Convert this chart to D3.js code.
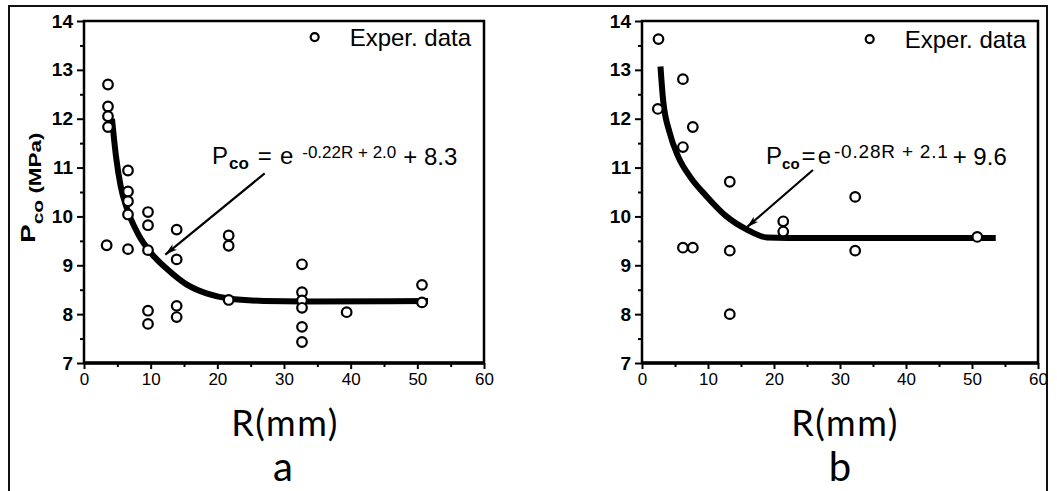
<!DOCTYPE html>
<html>
<head>
<meta charset="utf-8">
<script src="https://cdn.jsdelivr.net/npm/d3@7"></script>
<style>
  body { margin: 0; background: #fff; }
  svg { display: block; }
</style>
</head>
<body>
<div id="chart"></div>
<script>
var xTicks = [0, 10, 20, 30, 40, 50, 60];
var xMinor = [5, 15, 25, 35, 45, 55];
var yTicks = [7, 8, 9, 10, 11, 12, 13, 14];
var yMinor = [7.5, 8.5, 9.5, 10.5, 11.5, 12.5, 13.5];

// panel a: experimental points
var rA = [3.6, 3.6, 3.6, 3.6, 3.4,
          6.6, 6.6, 6.6, 6.6, 6.6,
          9.6, 9.6, 9.6, 9.6, 9.6,
          13.9, 13.9, 13.9, 13.9,
          21.7, 21.7, 21.7,
          32.7, 32.7, 32.7, 32.7, 32.7, 32.7,
          39.4, 50.7, 50.7];
var pA = [12.7, 12.25, 12.05, 11.83, 9.41,
          10.94, 10.51, 10.31, 10.04, 9.33,
          10.09, 9.82, 9.31, 8.07, 7.8,
          9.73, 9.12, 8.17, 7.94,
          9.61, 9.4, 8.29,
          9.02, 8.45, 8.28, 8.13, 7.74, 7.43,
          8.04, 8.6, 8.24];
// panel a: fitted curve as drawn
var curveRA = [4.2, 4.8, 5.5, 6.5, 8.0, 10.0, 12.5, 15.5, 18.5, 21.7, 27, 33, 51.6];
var curvePA = [12.0, 11.23, 10.62, 10.14, 9.67, 9.26, 8.92, 8.6, 8.42, 8.32, 8.27, 8.26, 8.27];

// panel b
var rB = [2.5, 2.4, 6.2, 7.7, 6.2, 13.3, 6.2, 7.7, 13.3, 13.3, 21.4, 21.4, 32.3, 32.3, 50.8];
var pB = [13.63, 12.2, 12.81, 11.83, 11.42, 10.71, 9.36, 9.36, 9.3, 8.0, 9.9, 9.69, 10.4, 9.3, 9.58];
var curveRB = [2.8, 3.2, 4.2, 5.5, 7.3, 9.8, 12.8, 15.9, 18.9, 22, 53.6];
var curvePB = [13.07, 12.38, 11.71, 11.22, 10.81, 10.41, 10.0, 9.73, 9.57, 9.56, 9.56];

var equationA = ["P", "co", "=", "e", "-0.22R + 2.0", "+ 8.3"];
var equationB = ["P", "co", "=", "e", "-0.28R + 2.1", "+ 9.6"];
var legendText = "Exper. data";
var yLabel = ["P", "co", " (MPa)"];
var xLabel = "R(mm)";

var width = 1057, height = 491;
var font = "'Liberation Sans', Arial, sans-serif";
var titleFont = "Lato, 'Open Sans', sans-serif";

var svg = d3.select("#chart").append("svg")
    .attr("width", width)
    .attr("height", height);

svg.append("defs").append("marker")
    .attr("id", "head")
    .attr("viewBox", "0 0 12 8")
    .attr("refX", 12)
    .attr("refY", 4)
    .attr("markerWidth", 12)
    .attr("markerHeight", 8)
    .attr("markerUnits", "userSpaceOnUse")
    .attr("orient", "auto")
    .append("path")
    .attr("d", "M0,0.5 L12,4 L0,7.5 L3,4 Z")
    .attr("fill", "#000");

// outer frame
svg.append("rect")
    .attr("x", 9).attr("y", 6)
    .attr("width", 1038).attr("height", 600)
    .attr("fill", "none")
    .attr("stroke", "#111")
    .attr("stroke-width", 2);

function drawPanel(cfg) {
    var x = d3.scaleLinear().domain([0, 60]).range([cfg.left, cfg.right]);
    var y = d3.scaleLinear().domain([7, 14]).range([363, 21]);
    var g = svg.append("g");

    // minor ticks
    g.append("g")
        .attr("transform", "translate(0,363)")
        .call(d3.axisBottom(x).tickValues(xMinor).tickSize(4).tickFormat(""))
        .call(function(s) { s.select(".domain").remove(); s.selectAll("line").attr("stroke-width", 2); });
    g.append("g")
        .attr("transform", "translate(" + cfg.left + ",0)")
        .call(d3.axisLeft(y).tickValues(yMinor).tickSize(4).tickFormat(""))
        .call(function(s) { s.select(".domain").remove(); s.selectAll("line").attr("stroke-width", 2); });

    // major ticks + labels
    g.append("g")
        .attr("transform", "translate(0,363)")
        .call(d3.axisBottom(x).tickValues(xTicks).tickSize(6).tickPadding(4).tickFormat(d3.format("d")))
        .call(function(s) {
            s.select(".domain").remove();
            s.selectAll("line").attr("stroke-width", 2);
            s.selectAll("text").attr("font-family", font).attr("font-size", 17).attr("fill", "#000");
        });
    g.append("g")
        .attr("transform", "translate(" + cfg.left + ",0)")
        .call(d3.axisLeft(y).tickValues(yTicks).tickSize(7).tickPadding(4).tickFormat(d3.format("d")))
        .call(function(s) {
            s.select(".domain").remove();
            s.selectAll("line").attr("stroke-width", 2);
            s.selectAll("text").attr("font-family", font).attr("font-size", 19)
                .attr("font-weight", "bold").attr("fill", "#000");
        });

    // plot frame
    g.append("rect")
        .attr("x", x(0)).attr("y", y(14))
        .attr("width", x(60) - x(0)).attr("height", y(7) - y(14))
        .attr("fill", "none")
        .attr("stroke", "#000")
        .attr("stroke-width", 2.5);
    g.append("line")
        .attr("x1", x(0)).attr("x2", x(60))
        .attr("y1", y(7)).attr("y2", y(7))
        .attr("stroke", "#000").attr("stroke-width", 3.5);

    // fitted curve
    var line = d3.line()
        .x(function(d) { return x(d[0]); })
        .y(function(d) { return y(d[1]); })
        .curve(d3.curveMonotoneX);
    g.append("path")
        .datum(d3.zip(cfg.curveR, cfg.curveP))
        .attr("d", line)
        .attr("fill", "none")
        .attr("stroke", "#000")
        .attr("stroke-width", 6);

    // data points
    g.selectAll(".pt")
        .data(d3.zip(cfg.r, cfg.p))
        .enter().append("circle")
        .attr("class", "pt")
        .attr("cx", function(d) { return x(d[0]); })
        .attr("cy", function(d) { return y(d[1]); })
        .attr("r", 4.8)
        .attr("fill", "#fff")
        .attr("stroke", "#000")
        .attr("stroke-width", 2.2);

    // legend
    g.append("circle")
        .attr("cx", x(cfg.legend[0])).attr("cy", y(cfg.legend[1]))
        .attr("r", 4).attr("fill", "#fff")
        .attr("stroke", "#000").attr("stroke-width", 2.2);
    g.append("text")
        .attr("x", x(cfg.legend[0]) + 35).attr("y", y(cfg.legend[1]) + 9)
        .attr("font-family", font).attr("font-size", 24)
        .text(legendText);

    // arrow
    g.append("line")
        .attr("x1", x(cfg.arrow[0])).attr("y1", y(cfg.arrow[1]))
        .attr("x2", x(cfg.arrow[2])).attr("y2", y(cfg.arrow[3]))
        .attr("stroke", "#000").attr("stroke-width", 2.2)
        .attr("marker-end", "url(#head)");

    // equation
    var eq = g.append("text")
        .attr("x", x(cfg.eqPos[0])).attr("y", y(cfg.eqPos[1]))
        .attr("font-family", font).attr("font-size", 24);
    var t = cfg.eq, dx = cfg.eqDx;
    eq.append("tspan").text(t[0]);
    eq.append("tspan").attr("dx", dx[0]).attr("dy", 5)
        .attr("font-size", cfg.subSize).attr("font-weight", "bold").text(t[1]);
    eq.append("tspan").attr("dx", dx[1]).attr("dy", -5).text(t[2]);
    eq.append("tspan").attr("dx", dx[2]).text(t[3]);
    eq.append("tspan").attr("dx", dx[3]).attr("dy", -6)
        .attr("font-size", cfg.supSize).attr("letter-spacing", cfg.supSpacing).text(t[4]);
    eq.append("tspan").attr("dx", dx[4]).attr("dy", 7).text(t[5]);

    // x title and panel letter
    var cx = (cfg.left + cfg.right) / 2;
    g.append("text")
        .attr("x", cx + cfg.titleShift).attr("y", 436)
        .attr("text-anchor", "middle")
        .attr("font-family", titleFont)
        .attr("font-size", 36)
        .attr("letter-spacing", 1.5)
        .text(xLabel);
    g.append("text")
        .attr("x", cx + cfg.letterShift).attr("y", 481)
        .attr("text-anchor", "middle")
        .attr("font-family", titleFont)
        .attr("font-size", 40)
        .text(cfg.letter);
}

drawPanel({
    left: 84, right: 484, r: rA, p: pA, curveR: curveRA, curveP: curvePA,
    legend: [34.6, 13.67], arrow: [27.1, 10.88, 12.2, 9.22],
    eq: equationA, eqPos: [19.2, 11.07], eqDx: [1, 9, 8, 9, 7],
    subSize: 17, supSize: 17, supSpacing: 0,
    titleShift: 1, letterShift: -1, letter: "a"
});
drawPanel({
    left: 642, right: 1038, r: rB, p: pB, curveR: curveRB, curveP: curvePB,
    legend: [34.5, 13.63], arrow: [25.9, 10.95, 15.9, 9.78],
    eq: equationB, eqPos: [18.8, 11.07], eqDx: [0, 2, 2, 3, 4],
    subSize: 15, supSize: 19, supSpacing: 0.8,
    titleShift: 5, letterShift: 0, letter: "b"
});

// y axis title (left panel only), stretched along the baseline like the original
var yt = svg.append("text")
    .attr("transform", "translate(35,243) rotate(-90) scale(1.4,1)")
    .attr("font-family", font)
    .attr("font-weight", "bold");
yt.append("tspan").attr("font-size", 20).text(yLabel[0]);
yt.append("tspan").attr("font-size", 15).attr("dy", 8).text(yLabel[1]);
yt.append("tspan").attr("font-size", 16).attr("dy", -2).text(yLabel[2]);
</script>
</body>
</html>
